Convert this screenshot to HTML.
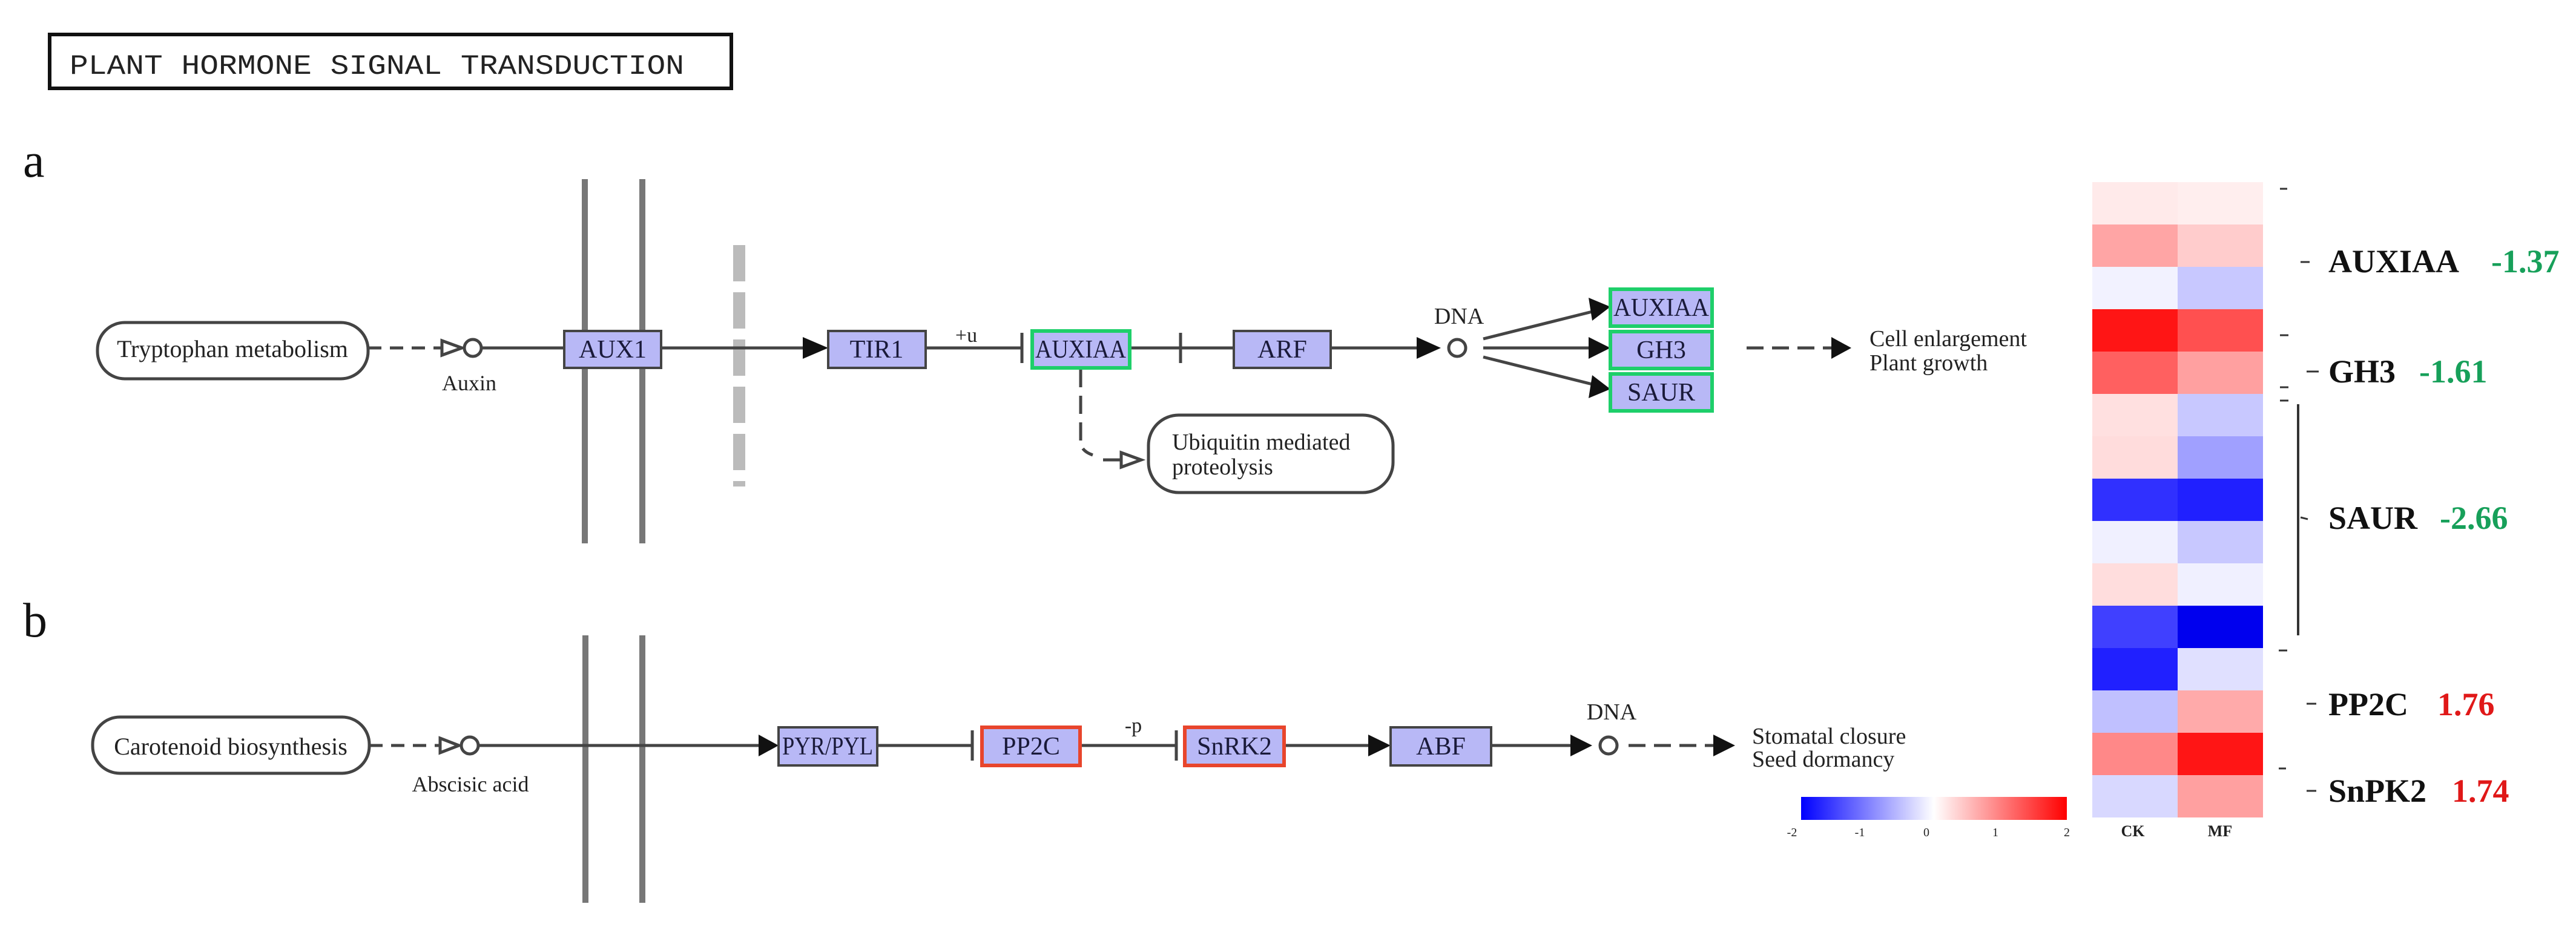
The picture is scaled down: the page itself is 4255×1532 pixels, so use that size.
<!DOCTYPE html>
<html><head><meta charset="utf-8"><style>
html,body{margin:0;padding:0;background:#fff;}
svg{display:block;}
text{font-family:"Liberation Serif",serif;}
</style></head><body>
<svg width="4255" height="1532" viewBox="0 0 4255 1532" xmlns="http://www.w3.org/2000/svg">
<!-- title -->
<rect x="82" y="57" width="1126" height="89" fill="#fff" stroke="#111" stroke-width="6"/>
<text x="115" y="122" font-size="46" textLength="1015" lengthAdjust="spacingAndGlyphs" fill="#222" style="font-family:'Liberation Mono',monospace">PLANT HORMONE SIGNAL TRANSDUCTION</text>
<text x="38" y="292" font-size="80" fill="#111">a</text>
<text x="38" y="1052" font-size="80" fill="#111">b</text>

<!-- membranes -->
<g stroke="#777" stroke-width="10">
<line x1="966" y1="296" x2="966" y2="898"/><line x1="1061" y1="296" x2="1061" y2="898"/>
<line x1="967" y1="1050" x2="967" y2="1492"/><line x1="1061" y1="1050" x2="1061" y2="1492"/>
</g>
<line x1="1221" y1="405" x2="1221" y2="804" stroke="#bbb" stroke-width="20" stroke-dasharray="60,18"/>

<!-- ROW A -->
<g stroke="#444" stroke-width="5" fill="none">
<rect x="161" y="533" width="447" height="93" rx="45"/>
<line x1="608" y1="575" x2="730" y2="575" stroke-dasharray="22,14"/>
<polygon points="730,563 763,575 730,587" fill="#fff"/>
<circle cx="781" cy="575" r="14" fill="#fff"/>
<line x1="795" y1="575" x2="1326" y2="575"/>
<line x1="1529" y1="575" x2="1688" y2="575"/>
<line x1="1688" y1="550" x2="1688" y2="600"/>
<line x1="1866" y1="575" x2="2037" y2="575"/>
<line x1="1950" y1="550" x2="1950" y2="600"/>
<line x1="2198" y1="575" x2="2340" y2="575"/>
<circle cx="2407" cy="575" r="14" fill="#fff"/>
<line x1="2450" y1="560" x2="2630" y2="515"/>
<line x1="2450" y1="575" x2="2630" y2="575"/>
<line x1="2450" y1="590" x2="2630" y2="635"/>
<line x1="2885" y1="575" x2="3025" y2="575" stroke-dasharray="28,14"/>
<path d="M1785 610 L1785 730 Q1785 745 1805 752" stroke-dasharray="30,14"/>
<line x1="1822" y1="760" x2="1852" y2="760"/>
<polygon points="1852,748 1885,760 1852,772" fill="#fff"/>
<rect x="1897" y="686" width="404" height="128" rx="50"/>
</g>
<g fill="#111">
<polygon points="1326,557 1368,575 1326,593"/>
<polygon points="2340,557 2380,575 2340,593"/>
<polygon points="2624,492 2660,507 2630,530"/>
<polygon points="2624,557 2660,575 2624,593"/>
<polygon points="2630,620 2660,643 2624,658"/>
<polygon points="3025,557 3058,575 3025,593"/>
</g>
<text x="384" y="590" font-size="40" text-anchor="middle" fill="#222">Tryptophan metabolism</text>
<text x="775" y="645" font-size="36" text-anchor="middle" fill="#222">Auxin</text>
<text x="1596" y="565" font-size="34" text-anchor="middle" fill="#222">+u</text>
<text x="2410" y="535" font-size="38" text-anchor="middle" fill="#222">DNA</text>
<text x="1936" y="743" font-size="38" fill="#222">Ubiquitin mediated</text>
<text x="1936" y="784" font-size="38" fill="#222">proteolysis</text>
<text x="3088" y="572" font-size="38" fill="#222">Cell enlargement</text>
<text x="3088" y="612" font-size="38" fill="#222">Plant growth</text>

<g font-size="42" text-anchor="middle" fill="#1a1a3a">
<rect x="932" y="547" width="160" height="61" fill="#b8b8f6" stroke="#444" stroke-width="4"/>
<text x="1012" y="591">AUX1</text>
<rect x="1368" y="547" width="161" height="61" fill="#b8b8f6" stroke="#444" stroke-width="4"/>
<text x="1448" y="591">TIR1</text>
<rect x="1705" y="547" width="161" height="61" fill="#b8b8f6" stroke="#1ecf6a" stroke-width="6"/>
<text x="1785" y="591" textLength="150" lengthAdjust="spacingAndGlyphs">AUXIAA</text>
<rect x="2038" y="547" width="160" height="61" fill="#b8b8f6" stroke="#444" stroke-width="4"/>
<text x="2118" y="591">ARF</text>
<rect x="2660" y="478" width="168" height="61" fill="#b8b8f6" stroke="#1ecf6a" stroke-width="6"/>
<text x="2744" y="522" textLength="158" lengthAdjust="spacingAndGlyphs">AUXIAA</text>
<rect x="2660" y="548" width="168" height="61" fill="#b8b8f6" stroke="#1ecf6a" stroke-width="6"/>
<text x="2744" y="592">GH3</text>
<rect x="2660" y="618" width="168" height="61" fill="#b8b8f6" stroke="#1ecf6a" stroke-width="6"/>
<text x="2744" y="662">SAUR</text>
</g>

<!-- ROW B -->
<g stroke="#444" stroke-width="5" fill="none">
<rect x="153" y="1185" width="457" height="93" rx="45"/>
<line x1="610" y1="1232" x2="727" y2="1232" stroke-dasharray="22,14"/>
<polygon points="727,1220 758,1232 727,1244" fill="#fff"/>
<circle cx="776" cy="1232" r="14" fill="#fff"/>
<line x1="790" y1="1232" x2="1253" y2="1232"/>
<line x1="1449" y1="1232" x2="1606" y2="1232"/>
<line x1="1606" y1="1207" x2="1606" y2="1257"/>
<line x1="1784" y1="1232" x2="1943" y2="1232"/>
<line x1="1943" y1="1207" x2="1943" y2="1257"/>
<line x1="2121" y1="1232" x2="2260" y2="1232"/>
<line x1="2463" y1="1232" x2="2594" y2="1232"/>
<circle cx="2657" cy="1232" r="14" fill="#fff"/>
<line x1="2690" y1="1232" x2="2830" y2="1232" stroke-dasharray="28,14"/>
</g>
<g fill="#111">
<polygon points="1253,1214 1286,1232 1253,1250"/>
<polygon points="2260,1214 2297,1232 2260,1250"/>
<polygon points="2594,1214 2630,1232 2594,1250"/>
<polygon points="2830,1214 2866,1232 2830,1250"/>
</g>
<text x="381" y="1247" font-size="40" text-anchor="middle" fill="#222">Carotenoid biosynthesis</text>
<text x="777" y="1308" font-size="36" text-anchor="middle" fill="#222">Abscisic acid</text>
<text x="1872" y="1210" font-size="34" text-anchor="middle" fill="#222">-p</text>
<text x="2662" y="1189" font-size="38" text-anchor="middle" fill="#222">DNA</text>
<text x="2894" y="1229" font-size="38" fill="#222">Stomatal closure</text>
<text x="2894" y="1267" font-size="38" fill="#222">Seed dormancy</text>

<g font-size="42" text-anchor="middle" fill="#1a1a3a">
<rect x="1286" y="1202" width="163" height="63" fill="#b8b8f6" stroke="#444" stroke-width="4"/>
<text x="1367" y="1247" textLength="150" lengthAdjust="spacingAndGlyphs">PYR/PYL</text>
<rect x="1622" y="1202" width="162" height="63" fill="#b8b8f6" stroke="#e8452c" stroke-width="6"/>
<text x="1703" y="1247">PP2C</text>
<rect x="1957" y="1202" width="164" height="63" fill="#b8b8f6" stroke="#e8452c" stroke-width="6"/>
<text x="2039" y="1247">SnRK2</text>
<rect x="2297" y="1202" width="166" height="63" fill="#b8b8f6" stroke="#444" stroke-width="4"/>
<text x="2380" y="1247">ABF</text>
</g>

<!-- colorbar -->
<defs><linearGradient id="cb" x1="0" x2="1">
<stop offset="0" stop-color="#0000ff"/><stop offset="0.5" stop-color="#ffffff"/><stop offset="1" stop-color="#ff0000"/>
</linearGradient></defs>
<rect x="2975" y="1317" width="439" height="38" fill="url(#cb)"/>
<g font-size="20" text-anchor="middle" fill="#222">
<text x="2960" y="1382">-2</text><text x="3072" y="1382">-1</text><text x="3182" y="1382">0</text><text x="3296" y="1382">1</text><text x="3414" y="1382">2</text>
</g>

<!-- heatmap -->
<g>
<rect x="3456" y="301" width="141" height="70" fill="#ffeaea"/><rect x="3597" y="301" width="141" height="70" fill="#ffeeee"/>
<rect x="3456" y="371" width="141" height="70" fill="#ffa5a5"/><rect x="3597" y="371" width="141" height="70" fill="#ffcccc"/>
<rect x="3456" y="441" width="141" height="70" fill="#f2f2ff"/><rect x="3597" y="441" width="141" height="70" fill="#c8c8ff"/>
<rect x="3456" y="511" width="141" height="70" fill="#ff1515"/><rect x="3597" y="511" width="141" height="70" fill="#ff5050"/>
<rect x="3456" y="581" width="141" height="70" fill="#ff6060"/><rect x="3597" y="581" width="141" height="70" fill="#ffa0a0"/>
<rect x="3456" y="651" width="141" height="70" fill="#ffe0e0"/><rect x="3597" y="651" width="141" height="70" fill="#c8c8ff"/>
<rect x="3456" y="721" width="141" height="70" fill="#ffdcdc"/><rect x="3597" y="721" width="141" height="70" fill="#a0a0ff"/>
<rect x="3456" y="791" width="141" height="70" fill="#3030ff"/><rect x="3597" y="791" width="141" height="70" fill="#2020ff"/>
<rect x="3456" y="861" width="141" height="70" fill="#f0f0ff"/><rect x="3597" y="861" width="141" height="70" fill="#c8c8ff"/>
<rect x="3456" y="931" width="141" height="70" fill="#ffdddd"/><rect x="3597" y="931" width="141" height="70" fill="#f0f0ff"/>
<rect x="3456" y="1001" width="141" height="70" fill="#4040ff"/><rect x="3597" y="1001" width="141" height="70" fill="#0000ee"/>
<rect x="3456" y="1071" width="141" height="70" fill="#2020ff"/><rect x="3597" y="1071" width="141" height="70" fill="#e0e0ff"/>
<rect x="3456" y="1141" width="141" height="70" fill="#c0c0ff"/><rect x="3597" y="1141" width="141" height="70" fill="#ffaaaa"/>
<rect x="3456" y="1211" width="141" height="70" fill="#ff8888"/><rect x="3597" y="1211" width="141" height="70" fill="#ff1515"/>
<rect x="3456" y="1281" width="141" height="70" fill="#d8d8ff"/><rect x="3597" y="1281" width="141" height="70" fill="#ffa0a0"/>
</g>
<g stroke="#333" stroke-width="3">
<line x1="3766" y1="312" x2="3778" y2="312"/>
<line x1="3800" y1="433" x2="3815" y2="433"/>
<line x1="3766" y1="554" x2="3780" y2="554"/>
<line x1="3810" y1="614" x2="3830" y2="614"/>
<line x1="3766" y1="640" x2="3780" y2="640"/>
<line x1="3766" y1="662" x2="3780" y2="662"/>
<line x1="3796" y1="668" x2="3796" y2="1050" stroke-width="4"/>
<line x1="3800" y1="855" x2="3812" y2="858"/>
<line x1="3764" y1="1075" x2="3778" y2="1075"/>
<line x1="3810" y1="1163" x2="3826" y2="1163"/>
<line x1="3764" y1="1270" x2="3776" y2="1270"/>
<line x1="3810" y1="1307" x2="3826" y2="1307"/>
</g>
<g font-size="54" font-weight="bold">
<text x="3846" y="450" fill="#111">AUXIAA</text><text x="4115" y="450" fill="#17a05a">-1.37</text>
<text x="3846" y="632" fill="#111">GH3</text><text x="3996" y="632" fill="#17a05a">-1.61</text>
<text x="3846" y="874" fill="#111">SAUR</text><text x="4030" y="874" fill="#17a05a">-2.66</text>
<text x="3846" y="1182" fill="#111">PP2C</text><text x="4026" y="1182" fill="#e01818">1.76</text>
<text x="3846" y="1325" fill="#111">SnPK2</text><text x="4050" y="1325" fill="#e01818">1.74</text>
</g>
<g font-size="26" font-weight="bold" text-anchor="middle" fill="#222">
<text x="3523" y="1382">CK</text><text x="3667" y="1382">MF</text>
</g>
</svg>
</body></html>
